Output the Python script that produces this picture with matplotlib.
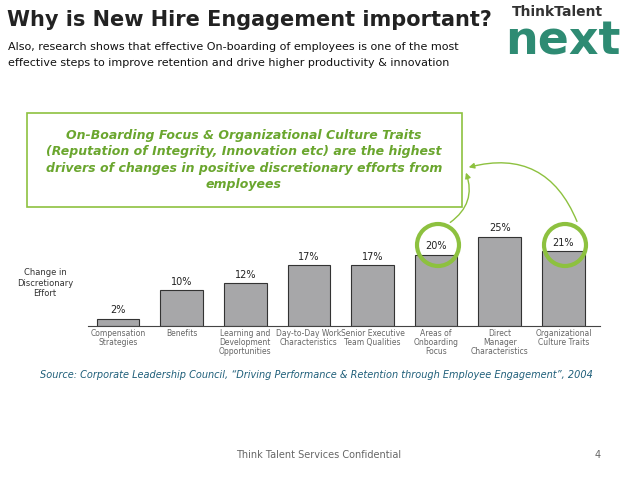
import matplotlib.pyplot as plt
from matplotlib.patches import Circle, Rectangle, FancyArrowPatch

categories = ["Compensation\nStrategies", "Benefits", "Learning and\nDevelopment\nOpportunities",
              "Day-to-Day Work\nCharacteristics", "Senior Executive\nTeam Qualities",
              "Areas of\nOnboarding\nFocus", "Direct\nManager\nCharacteristics",
              "Organizational\nCulture Traits"]
values = [2, 10, 12, 17, 17, 20, 25, 21]

green = "#8dc13f"
text_green = "#6aa62e"

fig = plt.figure(figsize=(6.38, 4.79), dpi=100)

# overlay in pixel coords for slide decorations
ov = fig.add_axes([0, 0, 1, 1])
ov.set_xlim(0, 638)
ov.set_ylim(479, 0)
ov.axis("off")

ov.text(7, 20, "Why is New Hire Engagement important?", fontsize=15, fontweight="bold",
        va="center", color="#222222")
ov.text(8, 47, "Also, research shows that effective On-boarding of employees is one of the most",
        fontsize=8, va="center", color="#111111")
ov.text(8, 63, "effective steps to improve retention and drive higher productivity & innovation",
        fontsize=8, va="center", color="#111111")

# logo
ov.text(512, 12, "ThinkTalent", fontsize=10, fontweight="bold", va="center", color="#333333")
ov.text(505, 42, "next", fontsize=33, fontweight="bold", va="center", color="#2e8b73")

# callout box
ov.add_patch(Rectangle((27, 113), 435, 94, fill=True, facecolor="white", edgecolor=green, lw=1.2))
ov.text(244, 160, "On-Boarding Focus & Organizational Culture Traits\n(Reputation of Integrity, Innovation etc) are the highest\n"
        "drivers of changes in positive discretionary efforts from\nemployees",
        fontsize=9, fontstyle="italic", fontweight="bold", color=text_green,
        ha="center", va="center", linespacing=1.35)

ov.text(45, 283, "Change in\nDiscretionary\nEffort", fontsize=6, ha="center", va="center", color="#333333")

ov.text(40, 375, "Source: Corporate Leadership Council, \u201cDriving Performance & Retention through Employee Engagement\u201d, 2004",
        fontsize=7, fontstyle="italic", va="center", color="#1f5f7a")
ov.text(319, 455, "Think Talent Services Confidential", fontsize=7, ha="center", va="center", color="#666666")
ov.text(598, 455, "4", fontsize=7, ha="center", va="center", color="#666666")

# chart
ax = fig.add_axes([0.138, 0.319, 0.802, 0.209])
x = range(len(values))
ax.bar(x, values, width=0.67, color="#a7a7a9", edgecolor="#333333", linewidth=0.8)
for i, v in enumerate(values):
    ax.text(i, v + 1, f"{v}%", ha="center", va="bottom", fontsize=7, color="#222222")
ax.set_xlim(-0.47, 7.57)
ax.set_ylim(0, 28)
ax.set_xticks(list(x))
ax.set_xticklabels(categories, fontsize=5.5, color="#666666", linespacing=1.0)
ax.tick_params(axis="x", length=0, pad=2)
ax.set_yticks([])
for s in ["top", "right", "left"]:
    ax.spines[s].set_visible(False)
ax.spines["bottom"].set_color("#444444")
ax.patch.set_alpha(0)

# highlight circles and arrows (drawn on top)
ov2 = fig.add_axes([0, 0, 1, 1])
ov2.set_xlim(0, 638)
ov2.set_ylim(479, 0)
ov2.axis("off")
for cx in (438, 565):
    ov2.add_patch(Circle((cx, 245), 21, fill=False, edgecolor=green, lw=3))
ov2.add_patch(FancyArrowPatch((448, 224), (465, 170), connectionstyle="arc3,rad=0.4",
                              arrowstyle="-|>", mutation_scale=8, color=green, lw=1))
ov2.add_patch(FancyArrowPatch((578, 224), (466, 168), connectionstyle="arc3,rad=0.45",
                              arrowstyle="-|>", mutation_scale=8, color=green, lw=1))

fig.savefig("out.png", dpi=100)
